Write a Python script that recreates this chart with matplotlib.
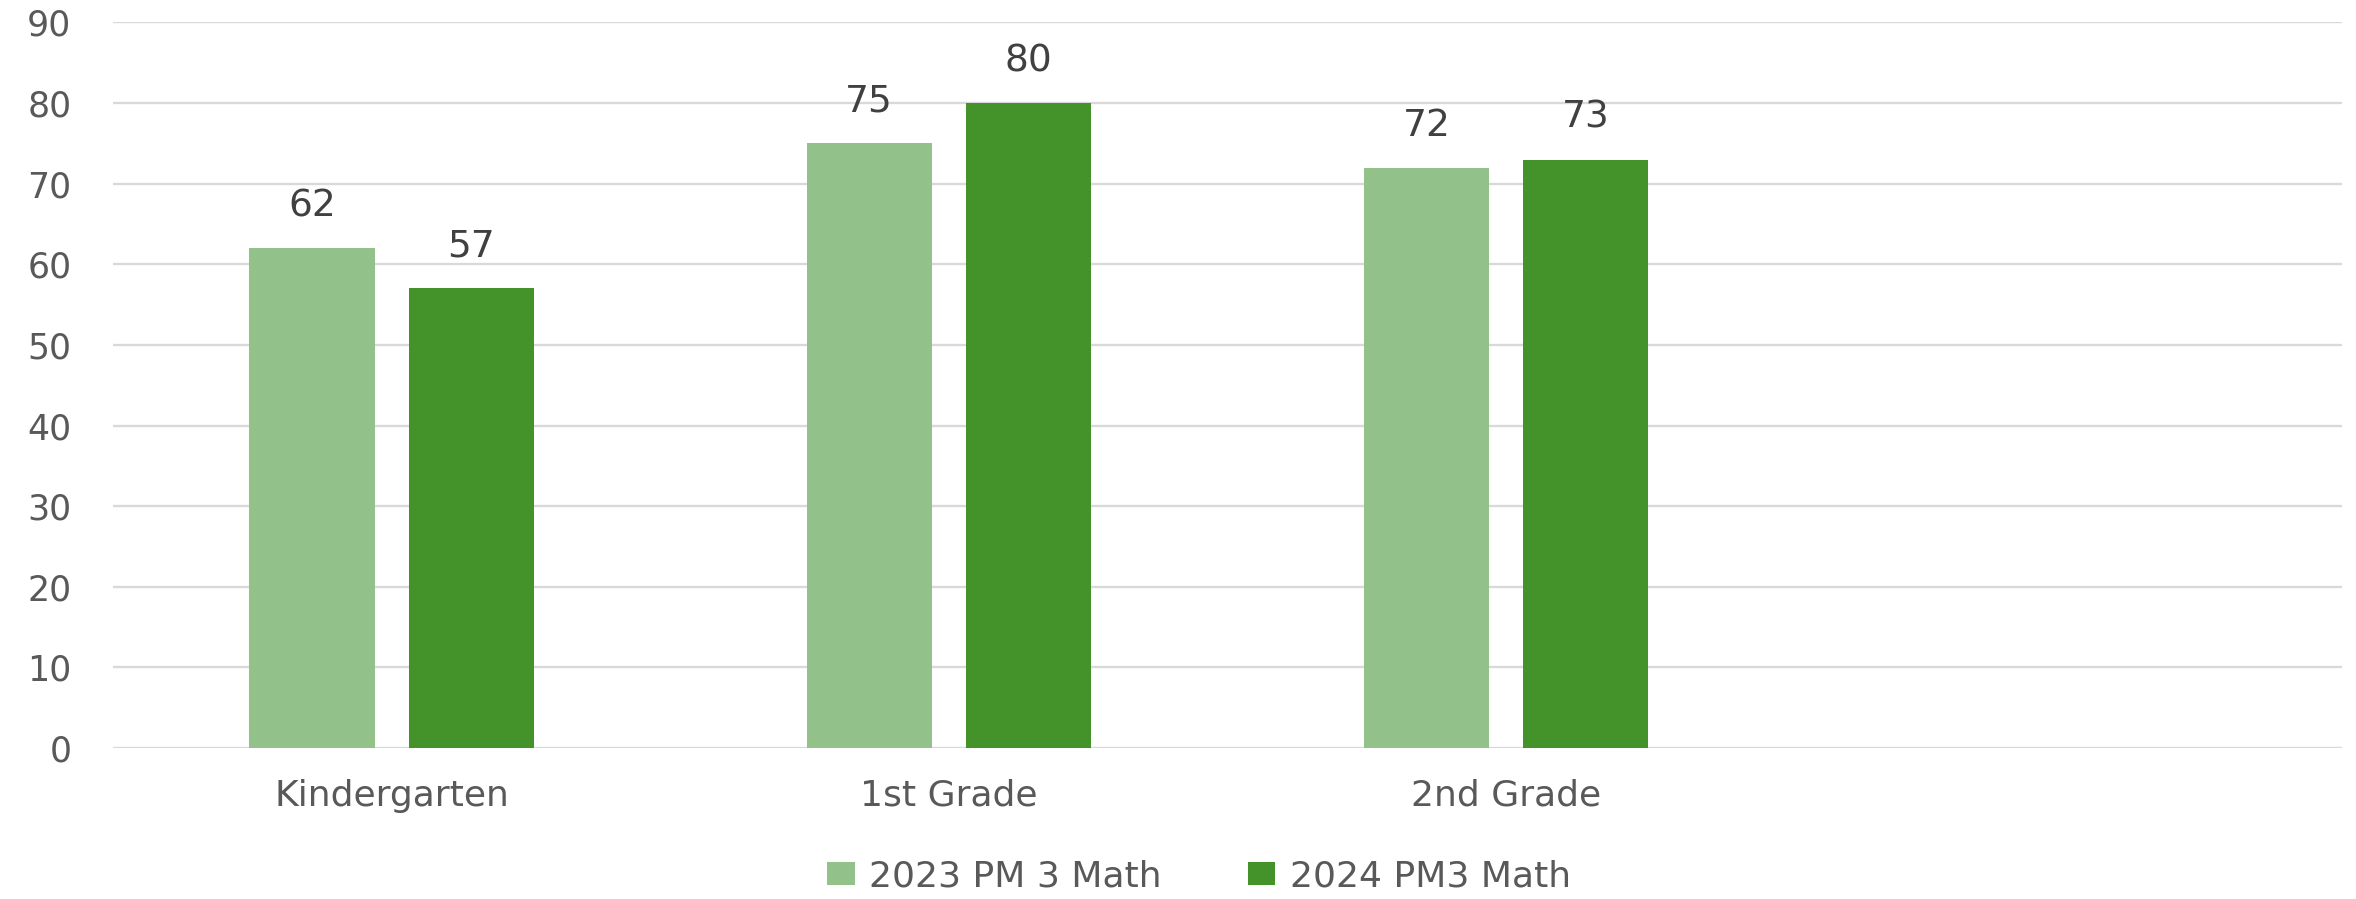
import numpy as np
import matplotlib
matplotlib.use("Agg")
import matplotlib.pyplot as plt

# data (4th slot is empty in the original)
categories = ["Kindergarten", "1st Grade", "2nd Grade", ""]
math_2023 = [62, 75, 72, np.nan]
math_2024 = [57, 80, 73, np.nan]
series_names = ["2023 PM 3 Math", "2024 PM3 Math"]

light_green = "#93c18a"
dark_green = "#44922a"
text_grey = "#595959"
grid_grey = "#d9d9d9"

plt.rcParams["font.family"] = ["DejaVu Sans"]

fig = plt.figure(figsize=(23.56, 8.99), dpi=100)
ax = fig.add_axes([0.048, 0.168, 0.946, 0.807])

x = np.arange(len(categories))
width = 0.225
offset = 0.143

b1 = ax.bar(x - offset, math_2023, width, color=light_green, label=series_names[0], zorder=3)
b2 = ax.bar(x + offset, math_2024, width, color=dark_green, label=series_names[1], zorder=3)

for bars, vals in ((b1, math_2023), (b2, math_2024)):
    labels = ["" if np.isnan(v) else f"{int(v)}" for v in vals]
    ax.bar_label(bars, labels=labels, padding=17, fontsize=27, color="#404040")

ax.set_xlim(-0.5, len(categories) - 0.5)
ax.set_ylim(0, 90)
ax.set_yticks(np.arange(0, 91, 10))
ax.set_xticks(x)
ax.set_xticklabels(categories)

ax.grid(axis="y", color=grid_grey, linewidth=1.7, zorder=0)
ax.set_axisbelow(True)
for s in ax.spines.values():
    s.set_visible(False)
ax.tick_params(axis="y", length=0, pad=30, labelsize=25, labelcolor=text_grey)
ax.tick_params(axis="x", length=0, pad=22, labelsize=26, labelcolor=text_grey)

fig.legend(handles=[b1, b2], labels=series_names, loc="lower center",
           bbox_to_anchor=(0.509, -0.03), ncol=2, frameon=False,
           fontsize=26, labelcolor=text_grey, handlelength=0.75, handleheight=0.6,
           handletextpad=0.4, columnspacing=2.4)

fig.savefig("out.png", dpi=100, facecolor="white")
